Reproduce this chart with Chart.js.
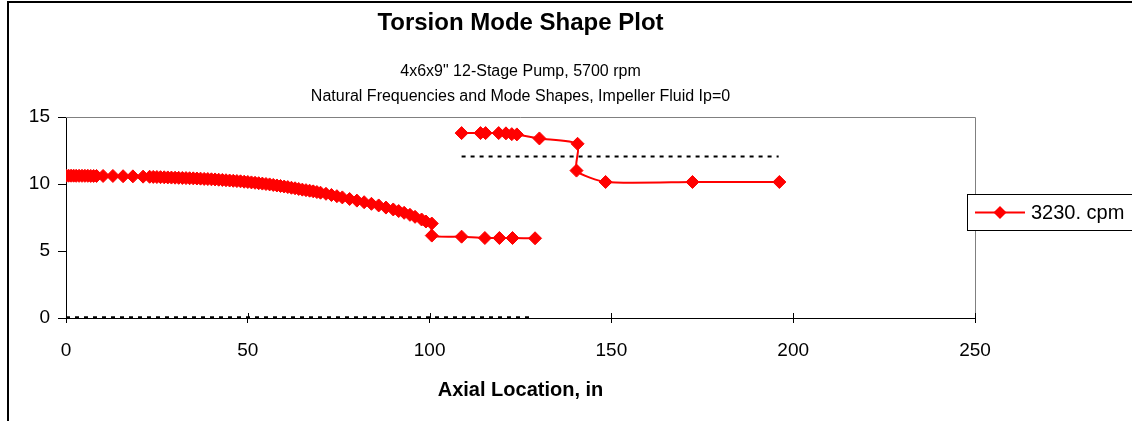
<!DOCTYPE html>
<html><head><meta charset="utf-8">
<script src="https://cdn.jsdelivr.net/npm/chart.js@4.4.0/dist/chart.umd.min.js"></script>
<style>html,body{margin:0;padding:0;background:#fff;}canvas{display:block;}</style>
</head><body>
<canvas id="c" width="1132" height="421"></canvas>
<script>
// Mode shape, shaft portion (0 - 129 in)
const shaftX = [0,0.7,1.4,2.1,2.8,3.6,4.4,5.2,6,6.8,7.6,8.4,10.2,12.9,15.7,18.4,21.2,23,24,25,26,27,28,29,30,31,32,33,34,35,36,37,38,39,40,41,42,43,44,45,46,47,48,49,50,51,52,53,54,55,56,57,58,59,60,61,62,63,64,65,66,67,68,69,70,71.5,73,74.5,76,78,80,82,84,86,88,90,91.5,93,94.6,96,97.8,99,100.6,100.6,108.8,115.2,119.2,122.8,129.0];
const shaftY = [10.62,10.62,10.62,10.62,10.61,10.61,10.61,10.61,10.61,10.60,10.60,10.60,10.60,10.60,10.58,10.57,10.55,10.54,10.53,10.52,10.51,10.50,10.49,10.48,10.47,10.46,10.45,10.44,10.43,10.42,10.41,10.40,10.38,10.37,10.35,10.34,10.32,10.30,10.28,10.26,10.24,10.22,10.20,10.17,10.15,10.12,10.09,10.06,10.03,10.00,9.97,9.93,9.89,9.85,9.81,9.77,9.72,9.68,9.63,9.58,9.54,9.50,9.45,9.40,9.35,9.27,9.18,9.09,9.00,8.88,8.76,8.64,8.52,8.40,8.24,8.10,7.98,7.85,7.70,7.55,7.35,7.20,7.05,6.15,6.07,5.97,5.97,5.97,5.95];
// Mode shape, second branch (108.8 - 196 in)
const branchX = [108.8,114.0,115.4,119.0,121.0,122.6,124.0,130.2,140.7,140.4,148.4,172.3,196.2];
const branchY = [13.80,13.80,13.80,13.80,13.78,13.72,13.70,13.40,13.00,11.00,10.15,10.15,10.15];
// Black dashed reference lines
const refUpperX = [108.8,196.0];
const refUpperY = [12.05,12.05];
const refLowerX = [0,128.0];
const refLowerY = [0.05,0.05];
const xTicks = [0,50,100,150,200,250];
const yTicks = [0,5,10,15];
const seriesLabel = '3230. cpm';

const FONT = '"Liberation Sans", Arial, sans-serif';
const toPts = (xs, ys) => xs.map((x, i) => ({x: x, y: ys[i]}));
const modeData = toPts(shaftX, shaftY).concat([{x: 129.5, y: null}], toPts(branchX, branchY));

const framePlugin = {
  id: 'frame',
  beforeDraw(chart) {
    const ctx = chart.ctx;
    ctx.save();
    ctx.fillStyle = '#fff';
    ctx.fillRect(0, 0, chart.width, chart.height);
    ctx.strokeStyle = '#000';
    ctx.lineWidth = 2;
    ctx.beginPath();
    ctx.moveTo(8, chart.height);
    ctx.lineTo(8, 2);
    ctx.lineTo(chart.width, 2);
    ctx.stroke();
    ctx.restore();
  },
  beforeDatasetsDraw(chart) {
    const {left, top, right, bottom} = chart.chartArea;
    const ctx = chart.ctx;
    ctx.save();
    ctx.strokeStyle = '#808080';
    ctx.lineWidth = 1;
    ctx.beginPath();
    ctx.moveTo(left, top + 0.5);
    ctx.lineTo(right + 0.5, top + 0.5);
    ctx.lineTo(right + 0.5, bottom);
    ctx.stroke();
    ctx.strokeStyle = '#000';
    const xs = chart.scales.x;
    xTicks.forEach(v => {
      const px = Math.round(xs.getPixelForValue(v)) + 0.5;
      ctx.beginPath();
      ctx.moveTo(px, bottom);
      ctx.lineTo(px, bottom - 5);
      ctx.stroke();
    });
    ctx.restore();
  },
  afterDraw(chart) {
    const ctx = chart.ctx;
    const ds = chart.data.datasets[0];
    ctx.save();
    const bx = 967.5, by = 194.5, bw = 200, bh = 36;
    ctx.fillStyle = '#fff';
    ctx.fillRect(bx, by, bw, bh);
    ctx.strokeStyle = '#000';
    ctx.lineWidth = 1;
    ctx.strokeRect(bx, by, bw, bh);
    const cy = by + bh / 2;
    ctx.strokeStyle = ds.borderColor;
    ctx.lineWidth = 2;
    ctx.beginPath();
    ctx.moveTo(975, cy);
    ctx.lineTo(1025, cy);
    ctx.stroke();
    ctx.fillStyle = ds.backgroundColor;
    ctx.beginPath();
    ctx.moveTo(1000, cy - 6.5); ctx.lineTo(1006.5, cy); ctx.lineTo(1000, cy + 6.5); ctx.lineTo(993.5, cy); ctx.closePath();
    ctx.fill();
    ctx.fillStyle = '#000';
    ctx.font = '20px ' + FONT;
    ctx.textAlign = 'left';
    ctx.textBaseline = 'middle';
    ctx.fillText(seriesLabel, 1031, cy + 1);
    ctx.restore();
  }
};

new Chart(document.getElementById('c'), {
  type: 'line',
  data: {
    datasets: [
      {
        label: seriesLabel,
        data: modeData,
        borderColor: '#FF0000',
        backgroundColor: '#FF0000',
        borderWidth: 2,
        pointStyle: 'rectRot',
        pointRadius: 6.5,
        pointBorderWidth: 1,
        pointBackgroundColor: '#FF0000',
        pointBorderColor: '#FF0000',
        tension: 0.2,
        spanGaps: false,
        order: 1
      },
      {
        label: 'ref1',
        data: toPts(refUpperX, refUpperY),
        borderColor: '#000',
        borderWidth: 2,
        borderDash: [4, 5],
        pointRadius: 0,
        order: 0
      },
      {
        label: 'ref0',
        data: toPts(refLowerX, refLowerY),
        borderColor: '#000',
        borderWidth: 2,
        borderDash: [4, 5],
        pointRadius: 0,
        order: 0
      }
    ]
  },
  options: {
    responsive: false,
    animation: false,
    layout: {padding: {left: 0, right: 157, top: 0, bottom: 0}},
    plugins: {
      legend: {display: false},
      tooltip: {enabled: false},
      title: {
        display: true, fullSize: false, text: 'Torsion Mode Shape Plot', color: '#000',
        font: {family: FONT, size: 24, weight: 'bold', lineHeight: 1.2},
        padding: {top: 9, bottom: 0}
      },
      subtitle: {
        display: true, fullSize: false, color: '#000',
        text: ['4x6x9" 12-Stage Pump, 5700 rpm', 'Natural Frequencies and Mode Shapes, Impeller Fluid Ip=0'],
        font: {family: FONT, size: 16, lineHeight: 1.5625},
        padding: {top: 21.7, bottom: 7.5}
      }
    },
    scales: {
      x: {
        type: 'linear', min: 0, max: 250,
        afterFit(s) { s.height = 103; },
        afterBuildTicks(s) { s.ticks = xTicks.map(v => ({value: v})); },
        ticks: {color: '#000', font: {family: FONT, size: 19}, padding: 16, maxRotation: 0},
        grid: {display: true, drawOnChartArea: false, drawTicks: true, tickLength: 5, color: '#000'},
        border: {display: true, color: '#000', width: 1},
        title: {display: true, text: 'Axial Location, in', color: '#000',
          font: {family: FONT, size: 20, weight: 'bold', lineHeight: 1.2}, padding: {top: 0, bottom: 19}}
      },
      y: {
        type: 'linear', min: 0, max: 15,
        afterFit(s) { s.width = 66; },
        afterBuildTicks(s) { s.ticks = yTicks.map(v => ({value: v})); },
        ticks: {color: '#000', font: {family: FONT, size: 19}, padding: 8},
        grid: {display: true, drawOnChartArea: false, drawTicks: true, tickLength: 8, color: '#000'},
        border: {display: true, color: '#000', width: 1}
      }
    }
  },
  plugins: [framePlugin]
});
</script>
</body></html>
